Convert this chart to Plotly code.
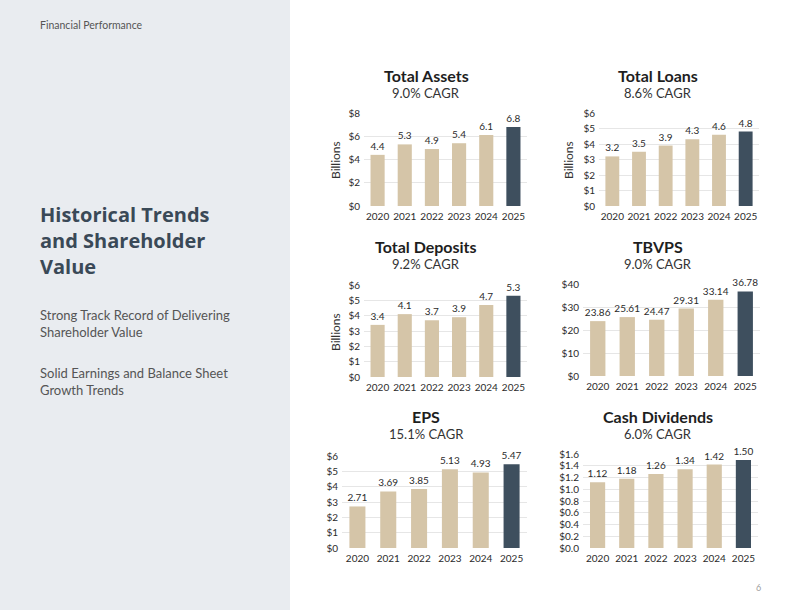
import plotly.graph_objects as go

# ---------------- data ----------------
years = ["2020", "2021", "2022", "2023", "2024", "2025"]
total_assets = [4.4, 5.3, 4.9, 5.4, 6.1, 6.8]
total_loans = [3.2, 3.5, 3.9, 4.3, 4.6, 4.8]
total_deposits = [3.4, 4.1, 3.7, 3.9, 4.7, 5.3]
tbvps = [23.86, 25.61, 24.47, 29.31, 33.14, 36.78]
eps = [2.71, 3.69, 3.85, 5.13, 4.93, 5.47]
cash_dividends = [1.12, 1.18, 1.26, 1.34, 1.42, 1.50]

chart_titles = ["Total Assets", "Total Loans", "Total Deposits", "TBVPS", "EPS", "Cash Dividends"]
cagr_labels = ["9.0% CAGR", "8.6% CAGR", "9.2% CAGR", "9.0% CAGR", "15.1% CAGR", "6.0% CAGR"]
series = [total_assets, total_loans, total_deposits, tbvps, eps, cash_dividends]

# ---------------- styling / layout ----------------
W, H = 800, 610
FONT = "Lato"
TAN = "#D5C5A8"
DARK = "#3E4F5E"
GRID = "#E6E6E6"
TXT = "#2B2B2B"

def fx(p):
    return p / W

def fy(p):
    return 1 - p / H

panel_cfg = [
    dict(x=(364, 527), y=(113, 206), ymax=8, dtick=2, tf="", lf="%{y:.1f}", bil=(335, 160), cx=426, ty=75),
    dict(x=(599, 759), y=(113, 206), ymax=6, dtick=1, tf="", lf="%{y:.1f}", bil=(568, 160), cx=658, ty=75),
    dict(x=(364, 527), y=(285, 377), ymax=6, dtick=1, tf="", lf="%{y:.1f}", bil=(335, 332), cx=426, ty=246),
    dict(x=(583, 760), y=(284, 376), ymax=40, dtick=10, tf="", lf="%{y:.2f}", bil=None, cx=658, ty=246),
    dict(x=(342, 527), y=(456, 548), ymax=6, dtick=1, tf="", lf="%{y:.2f}", bil=None, cx=426, ty=416),
    dict(x=(583, 758), y=(454, 548), ymax=1.6, dtick=0.2, tf=".1f", lf="%{y:.2f}", bil=None, cx=658, ty=416),
]

fig = go.Figure()
annotations = []
layout_axes = {}

for i, (vals, cfg) in enumerate(zip(series, panel_cfg)):
    n = i + 1
    xa = "x" if n == 1 else f"x{n}"
    ya = "y" if n == 1 else f"y{n}"
    colors = [TAN] * (len(vals) - 1) + [DARK]
    fig.add_trace(go.Bar(
        x=years, y=vals, xaxis=xa, yaxis=ya,
        marker=dict(color=colors, line=dict(width=0)),
        width=0.52,
        texttemplate=cfg["lf"], textposition="outside",
        textfont=dict(family=FONT, size=10, color=TXT),
        constraintext="none", cliponaxis=False,
        showlegend=False, hoverinfo="skip",
    ))
    xkey = "xaxis" if n == 1 else f"xaxis{n}"
    ykey = "yaxis" if n == 1 else f"yaxis{n}"
    layout_axes[xkey] = dict(
        domain=[fx(cfg["x"][0]), fx(cfg["x"][1])], anchor=ya,
        type="category", showgrid=False, showline=False, zeroline=False,
        ticks="", ticklabelstandoff=3,
        tickfont=dict(family=FONT, size=10, color=TXT),
        automargin=False, fixedrange=True,
    )
    layout_axes[ykey] = dict(
        domain=[fy(cfg["y"][1]), fy(cfg["y"][0])], anchor=xa,
        range=[0, cfg["ymax"]], dtick=cfg["dtick"], tick0=0,
        tickprefix="$", tickformat=cfg["tf"],
        showgrid=True, gridcolor=GRID, gridwidth=1,
        zeroline=False, showline=False, ticks="", ticklabelstandoff=3,
        tickfont=dict(family=FONT, size=10, color=TXT),
        automargin=False, fixedrange=True,
    )
    annotations.append(dict(
        text=chart_titles[i], x=fx(cfg["cx"]), y=fy(cfg["ty"]),
        xref="paper", yref="paper", showarrow=False,
        xanchor="center", yanchor="middle",
        font=dict(family=FONT, size=16, color="#1E1E1E", weight=700),
    ))
    annotations.append(dict(
        text=cagr_labels[i], x=fx(cfg["cx"]), y=fy(cfg["ty"] + 18),
        xref="paper", yref="paper", showarrow=False,
        xanchor="center", yanchor="middle",
        font=dict(family=FONT, size=13, color="#333333"),
    ))
    if cfg["bil"]:
        annotations.append(dict(
            text="Billions", x=fx(cfg["bil"][0]), y=fy(cfg["bil"][1]),
            xref="paper", yref="paper", showarrow=False, textangle=-90,
            xanchor="center", yanchor="middle",
            font=dict(family=FONT, size=12, color="#333333"),
        ))

# left panel text
left_items = [
    ("Financial Performance", 25, 10.5, "#555555", 400, FONT),
    ("Historical Trends<br>and Shareholder<br>Value", 240, 20, "#3A4957", 700, "Open Sans"),
    ("Strong Track Record of Delivering<br>Shareholder Value", 324, 13, "#555555", 400, FONT),
    ("Solid Earnings and Balance Sheet<br>Growth Trends", 381, 13, "#555555", 400, FONT),
]
for txt, ypx, size, col, wt, fam in left_items:
    annotations.append(dict(
        text=txt, x=fx(38), y=fy(ypx), xref="paper", yref="paper",
        showarrow=False, xanchor="left", yanchor="middle", align="left",
        font=dict(family=fam, size=size, color=col, weight=wt),
    ))
annotations.append(dict(
    text="6", x=fx(758), y=fy(587), xref="paper", yref="paper",
    showarrow=False, xanchor="center", yanchor="middle",
    font=dict(family=FONT, size=9, color="#A0A0A0"),
))

fig.update_layout(
    width=W, height=H, margin=dict(l=0, r=0, t=0, b=0, autoexpand=False),
    paper_bgcolor="white", plot_bgcolor="rgba(0,0,0,0)",
    font=dict(family=FONT, color=TXT),
    annotations=annotations,
    shapes=[dict(type="rect", xref="paper", yref="paper", x0=0, x1=fx(290), y0=0, y1=1,
                 fillcolor="#E9ECF0", line=dict(width=0), layer="below")],
    **layout_axes,
)

fig.write_html(
    "out.html",
    config=dict(displayModeBar=False),
    post_script="document.body.style.margin='0';document.body.style.overflow='hidden';",
)
